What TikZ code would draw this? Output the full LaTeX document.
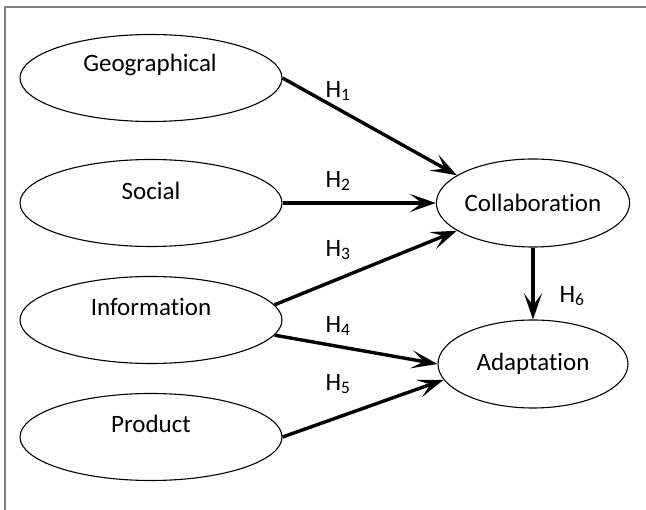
\documentclass[tikz,border=0pt]{standalone}
\usepackage{fontspec}
\setmainfont{Carlito}[Ligatures=NoCommon]
\usetikzlibrary{shapes.geometric,arrows.meta}
\begin{document}
\begin{tikzpicture}[x=1pt,y=-1pt,
  oval/.style={draw,ellipse,line width=1.1pt,inner sep=0pt},
  leftoval/.style={oval,minimum width=262pt,minimum height=87pt},
  rightoval/.style={oval,minimum width=190pt,minimum height=88pt,font=\fontsize{25}{29}\selectfont},
  txt/.style={font=\fontsize{25}{29}\selectfont,inner sep=0pt},
  hyp/.style={font=\fontsize{25}{29}\selectfont,inner sep=0pt},
  link/.style={line width=3.4pt,-{Stealth[length=26pt,width=18pt,inset=12pt]}}]
\useasboundingbox (0,0) rectangle (646,510);
\coordinate (ftop) at (646,7);
\coordinate (fcorner) at (5,7);
\coordinate (fbot) at (5,510);
\draw[gray,line width=2pt] (ftop) -- (fcorner) -- (fbot);

\node[leftoval] (geo) at (151,78) {};
\node[txt] (geot) at (150,65) {Geographical};
\node[leftoval] (soc) at (151,203) {};
\node[txt] (soct) at (151,191) {Social};
\node[leftoval] (inf) at (151,320) {};
\node[txt] (inft) at (151,307) {Information};
\node[leftoval] (prod) at (151,437) {};
\node[txt] (prodt) at (151,424) {Product};

\node[rightoval] (col) at (533,203) {Collaboration};
\node[rightoval] (ada) at (533,364) {Adaptation};

\draw[link] (geo.east) -- (col.160);
\draw[link] (soc.east) -- (col.west);
\draw[link] (inf.7) -- (col.200);
\draw[link] (inf.-7) -- (ada.west);
\draw[link] (prod.east) -- (ada.190);
\draw[link] (col.south) -- (ada.north);

\node[hyp] (h1) at (338,91) {H\textsubscript{1}};
\node[hyp] (h2) at (338,181) {H\textsubscript{2}};
\node[hyp] (h3) at (338,250) {H\textsubscript{3}};
\node[hyp] (h4) at (338,326) {H\textsubscript{4}};
\node[hyp] (h5) at (338,384) {H\textsubscript{5}};
\node[hyp] (h6) at (572,296) {H\textsubscript{6}};
\end{tikzpicture}
\end{document}
